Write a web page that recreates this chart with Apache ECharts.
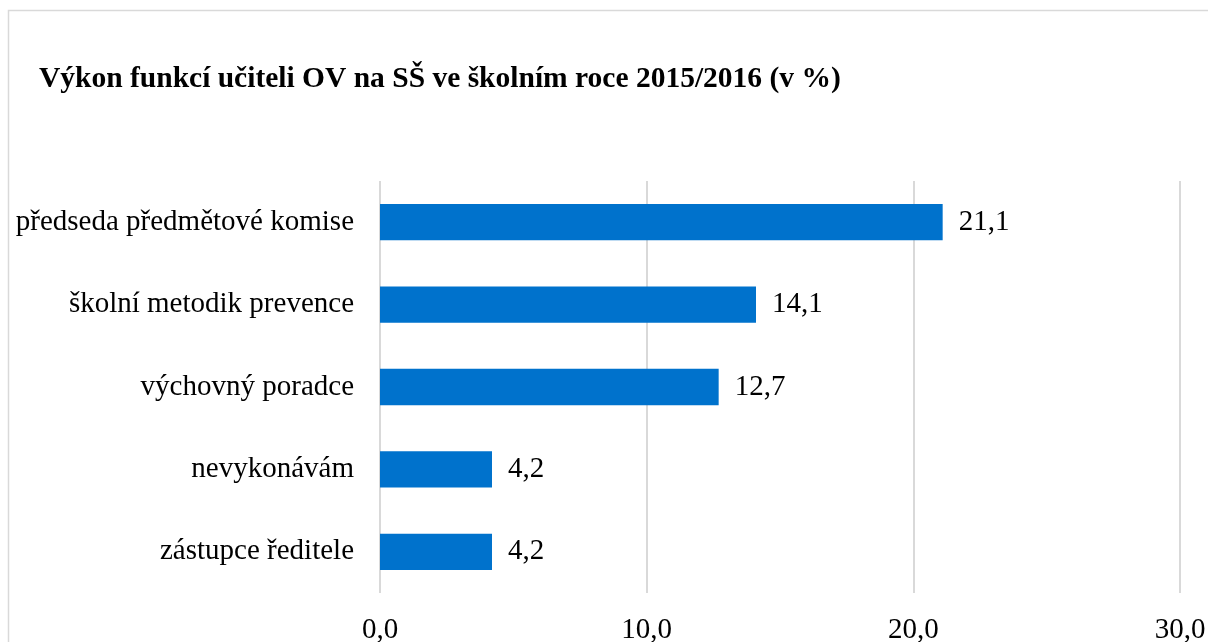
<!DOCTYPE html>
<html><head><meta charset="utf-8">
<script src="https://cdn.jsdelivr.net/npm/echarts@6/dist/echarts.min.js"></script>
<style>html,body{margin:0;padding:0;background:#fff}#c{width:1208px;height:642px}</style>
</head><body><div id="c"></div>
<script>
const titleText = 'Výkon funkcí učiteli OV na SŠ ve školním roce 2015/2016 (v %)';
const categories = ['zástupce ředitele','nevykonávám','výchovný poradce','školní metodik prevence','předseda předmětové komise'];
const values = [4.2, 4.2, 12.7, 14.1, 21.1];
const fmt = v => v.toFixed(1).replace('.', ',');
const chart = echarts.init(document.getElementById('c'));
const font = '"Liberation Serif", "Times New Roman", serif';
chart.setOption({
  animation: false,
  textStyle: { fontFamily: font },
  graphic: [{ type: 'rect', shape: { x: 8.5, y: 10.5, width: 1210, height: 650 }, style: { fill: 'none', stroke: '#d9d9d9', lineWidth: 1.5 } }],
  title: { text: titleText, left: 34, top: 59, textStyle: { fontFamily: font, fontWeight: 'bold', fontSize: 29.5, color: '#000' } },
  grid: { left: 380, right: 28, top: 181, bottom: 49, containLabel: false, outerBoundsMode: 'none' },
  xAxis: { type: 'value', min: 0, max: 30, interval: 10,
    axisLabel: { formatter: fmt, fontFamily: font, fontSize: 29, color: '#000', margin: 23 },
    splitLine: { lineStyle: { color: '#d9d9d9', width: 2 } }, axisLine: { show: false }, axisTick: { show: false } },
  yAxis: { type: 'category', data: categories,
    axisLabel: { fontFamily: font, fontSize: 29, color: '#000', margin: 26 },
    axisLine: { show: false }, axisTick: { show: false } },
  series: [{ type: 'bar', data: values, barWidth: '44%', itemStyle: { color: '#0072CC' },
    label: { show: true, position: 'right', distance: 16, formatter: p => fmt(p.value), fontFamily: font, fontSize: 29, color: '#000' } }]
});
</script></body></html>
